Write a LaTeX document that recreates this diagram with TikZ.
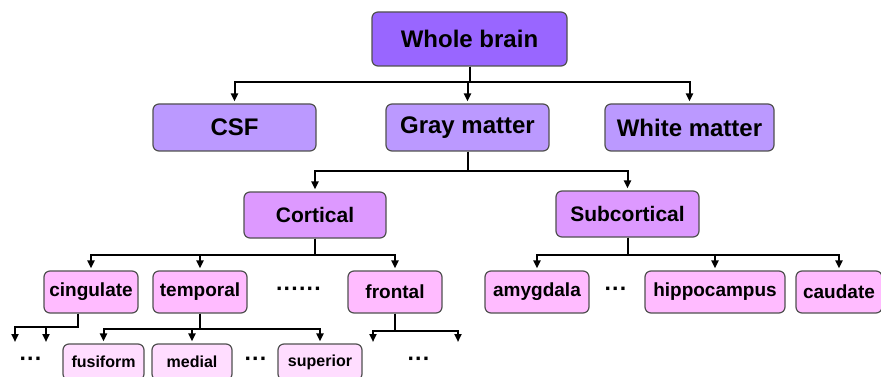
\documentclass[tikz,border=0pt]{standalone}
\usepackage{fontspec}
\setmainfont{Liberation Sans}
\usetikzlibrary{arrows.meta,calc}
\definecolor{rootc}{RGB}{153,102,255}
\definecolor{tissc}{RGB}{187,153,255}
\definecolor{regc}{RGB}{221,153,255}
\definecolor{lobec}{RGB}{255,187,255}
\definecolor{subc}{RGB}{255,221,255}
\definecolor{edgeg}{RGB}{80,80,80}

\begin{document}
\begin{tikzpicture}[x=1pt,y=-1pt,font=\bfseries,
  >={Triangle[width=7pt,length=8pt]},
  box/.style={draw=edgeg,line width=1.2pt,rounded corners=6pt,inner sep=0pt,align=center},
  lvA/.style={box,fill=rootc,font=\fontsize{24}{28}\selectfont\bfseries},
  lvB/.style={box,fill=tissc,font=\fontsize{24}{28}\selectfont\bfseries},
  lvC/.style={box,fill=regc,font=\fontsize{21}{25}\selectfont\bfseries},
  lvD/.style={box,fill=lobec,minimum height=42pt,font=\fontsize{19}{23}\selectfont\bfseries},
  lvE/.style={box,fill=subc,minimum height=36pt,font=\fontsize{16}{19}\selectfont\bfseries},
  dots/.style={font=\fontsize{23}{27}\selectfont\bfseries},
  link/.style={line width=2pt,shorten >=2pt}]

\useasboundingbox (0,0) rectangle (881,377);
\clip (0,0) rectangle (881,377);

%============================== top levels ==============================
\node[lvA,minimum width=195pt,minimum height=54pt] (wb) at (469.5,39) {Whole brain};

\node[lvB,minimum width=163pt,minimum height=47pt] (csf) at (234.5,127.5) {CSF};
\node[lvB,minimum width=163pt,minimum height=47pt] (gm) at (467.5,127.5) {Gray matter};
\node[lvB,minimum width=169pt,minimum height=47pt] (wm) at (689.5,127.5) {White matter};
\foreach \c in {csf,gm,wm}{\draw[link,->] (wb.south) -- ++(0,15) -| (\c.north);}

\node[lvC,minimum width=142pt,minimum height=46pt] (cort) at (315,215) {Cortical};
\node[lvC,minimum width=143pt,minimum height=46pt] (subcort) at (627.5,214) {Subcortical};
\foreach \c in {cort,subcort}{\draw[link,->] (gm.south) -- ++(0,19) -| (\c.north);}

%============================== regions ==============================
\node[lvD,minimum width=94pt] (cing) at (91,292) {cingulate};
\node[lvD,minimum width=94pt] (temp) at (200,292) {temporal};
\node[dots] (cdots) at (299,292) {······};
\node[lvD,minimum width=94pt] (front) at (395,292) {frontal};
\foreach \c in {cing,temp,front}{\draw[link,->] (cort.south) -- ++(0,16) -| (\c.north);}

\node[lvD,minimum width=104pt] (amyg) at (537,292) {amygdala};
\node[dots] (sdots) at (616,292) {···};
\node[lvD,minimum width=140pt] (hippo) at (715,292) {hippocampus};
\node[lvD,minimum width=86pt] (caud) at (839,292) {caudate};
\foreach \c in {amyg,hippo,caud}{\draw[link,->] (subcort.south) -- ++(0,17) -| (\c.north);}

%============================== sub-regions ==============================
\coordinate (cg1) at (15,344);
\coordinate (cg2) at (46,344);
\node[dots] (gdots) at (31,362) {···};
\foreach \c in {cg1,cg2}{\draw[link,->] ([xshift=-13pt]cing.south) -- ++(0,13) -| (\c);}

\node[lvE,minimum width=81pt] (fusi) at (103.5,362) {fusiform};
\node[lvE,minimum width=80pt] (medi) at (192,362) {medial};
\node[dots] (tdots) at (256,362) {···};
\node[lvE,minimum width=84pt] (supe) at (320,362) {superior};
\foreach \c in {fusi,medi,supe}{\draw[link,->] (temp.south) -- ++(0,15) -| (\c.north);}

\coordinate (fr1) at (373,344);
\coordinate (fr2) at (458,344);
\node[dots] (fdots) at (419,362) {···};
\foreach \c in {fr1,fr2}{\draw[link,->] (front.south) -- ++(0,17) -| (\c);}

\end{tikzpicture}
\end{document}
